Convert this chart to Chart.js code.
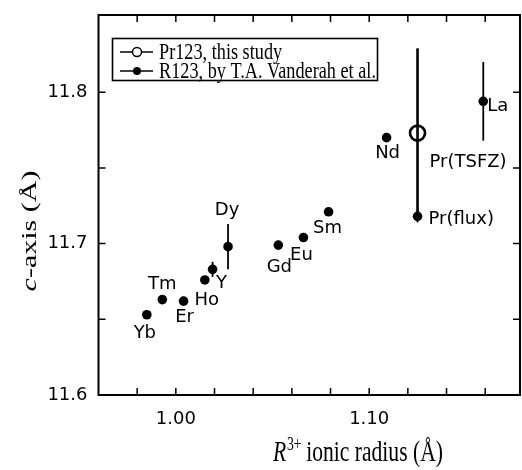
<!DOCTYPE html>
<html>
<head>
<meta charset="utf-8">
<script src="https://cdn.jsdelivr.net/npm/chart.js@4/dist/chart.umd.min.js"></script>
<style>
  body { margin: 0; background: #fff; }
  #wrap { width: 522px; height: 470px; }
</style>
</head>
<body>
<div id="wrap"><canvas id="cChart" width="522" height="470"></canvas></div>
<script>
// R123 data (T.A. Vanderah et al.)
const names = ['Yb', 'Tm', 'Er', 'Ho', 'Y', 'Dy', 'Gd', 'Eu', 'Sm', 'Nd', 'Pr(flux)', 'La'];
const radius = [0.985, 0.993, 1.004, 1.015, 1.019, 1.027, 1.053, 1.066, 1.079, 1.109, 1.125, 1.159];
const caxis = [11.653, 11.663, 11.662, 11.676, 11.683, 11.698, 11.699, 11.704, 11.721, 11.770, 11.718, 11.794];
const caxisErr = [0, 0, 0, 0, 0.005, 0.015, 0, 0, 0, 0, 0.004, 0.026];

// Pr123, this study
const prName = 'Pr(TSFZ)';
const prRadius = [1.125];
const prCaxis = [11.773];
const prErr = [0.056];

// axis ticks
const xTicks = [0.98, 1.00, 1.02, 1.04, 1.06, 1.08, 1.10, 1.12, 1.14, 1.16];
const xTickLabels = ['1.00', '1.10'];
const yTicks = [11.60, 11.65, 11.70, 11.75, 11.80];
const yTickLabels = ['11.6', '11.7', '11.8'];

// where each point label sits relative to its marker (px)
const labelPos = {
    'Yb': [-2, 19, 'center'], 'Tm': [0, -15, 'center'], 'Er': [1, 16, 'center'],
    'Ho': [2, 20, 'center'], 'Y': [9, 14, 'center'], 'Dy': [-1, -36, 'center'],
    'Gd': [1, 22, 'center'], 'Eu': [-2, 18, 'center'], 'Sm': [-1, 17, 'center'],
    'Nd': [1, 16, 'center'], 'Pr(flux)': [11, 3, 'left'], 'La': [4, 5, 'left'],
    'Pr(TSFZ)': [12, 29, 'left']
};

const SANS = '"DejaVu Sans", sans-serif';
const SERIF = '"Liberation Serif", "Times New Roman", serif';

function near(v, list) {
    return list.find(s => Math.abs(parseFloat(s) - v) < 1e-6);
}

// frame, inward ticks, error bars, labels, legend, axis titles
const decor = {
    id: 'decor',
    beforeDatasetsDraw(chart) {
        const ctx = chart.ctx;
        const x = chart.scales.x, y = chart.scales.y;
        ctx.save();
        ctx.strokeStyle = '#000';
        ctx.lineCap = 'butt';
        // error bars
        ctx.lineWidth = 1.8;
        radius.forEach((r, i) => {
            if (!caxisErr[i]) return;
            const px = x.getPixelForValue(r);
            ctx.beginPath();
            ctx.moveTo(px, y.getPixelForValue(caxis[i] + caxisErr[i]));
            ctx.lineTo(px, y.getPixelForValue(caxis[i] - caxisErr[i]));
            ctx.stroke();
        });
        ctx.lineWidth = 2.6;
        prRadius.forEach((r, i) => {
            const px = x.getPixelForValue(r);
            ctx.beginPath();
            ctx.moveTo(px, y.getPixelForValue(prCaxis[i] + prErr[i]));
            ctx.lineTo(px, y.getPixelForValue(prCaxis[i] - prErr[i]));
            ctx.stroke();
        });
        ctx.restore();
    },
    afterDraw(chart) {
        const ctx = chart.ctx;
        const a = chart.chartArea;
        const x = chart.scales.x, y = chart.scales.y;
        ctx.save();
        ctx.strokeStyle = '#000';
        ctx.fillStyle = '#000';

        // frame
        ctx.lineWidth = 2;
        ctx.strokeRect(a.left, a.top, a.right - a.left, a.bottom - a.top);

        // inward ticks on all four sides
        ctx.lineWidth = 1.5;
        const tl = 7;
        xTicks.forEach(v => {
            const px = x.getPixelForValue(v);
            ctx.beginPath();
            ctx.moveTo(px, a.bottom); ctx.lineTo(px, a.bottom - tl);
            ctx.moveTo(px, a.top); ctx.lineTo(px, a.top + tl);
            ctx.stroke();
        });
        yTicks.forEach(v => {
            const py = y.getPixelForValue(v);
            ctx.beginPath();
            ctx.moveTo(a.left, py); ctx.lineTo(a.left + tl, py);
            ctx.moveTo(a.right, py); ctx.lineTo(a.right - tl, py);
            ctx.stroke();
        });

        // point labels
        ctx.font = '18px ' + SANS;
        ctx.textBaseline = 'middle';
        names.forEach((n, i) => {
            const p = labelPos[n];
            ctx.textAlign = p[2];
            ctx.fillText(n, x.getPixelForValue(radius[i]) + p[0], y.getPixelForValue(caxis[i]) + p[1]);
        });
        const pp = labelPos[prName];
        ctx.textAlign = pp[2];
        ctx.fillText(prName, x.getPixelForValue(prRadius[0]) + pp[0], y.getPixelForValue(prCaxis[0]) + pp[1]);

        // legend
        const lx = 112.5, ly = 38.5, lw = 265, lh = 42;
        ctx.lineWidth = 1.6;
        ctx.fillStyle = '#fff';
        ctx.fillRect(lx, ly, lw, lh);
        ctx.strokeRect(lx, ly, lw, lh);
        ctx.fillStyle = '#000';
        const rows = [
            { y: 52, label: 'Pr123, this study', open: true },
            { y: 71, label: 'R123, by T.A. Vanderah et al.', open: false }
        ];
        rows.forEach(r => {
            ctx.lineWidth = 1.5;
            ctx.beginPath();
            ctx.moveTo(120, r.y); ctx.lineTo(153, r.y);
            ctx.stroke();
            ctx.beginPath();
            ctx.arc(137, r.y, r.open ? 4.5 : 4, 0, Math.PI * 2);
            if (r.open) {
                ctx.fillStyle = '#fff'; ctx.fill();
                ctx.lineWidth = 1.4; ctx.stroke();
                ctx.fillStyle = '#000';
            } else {
                ctx.fill();
            }
            ctx.save();
            ctx.translate(159, r.y);
            ctx.scale(0.76, 1);
            ctx.font = '24px ' + SERIF;
            ctx.textAlign = 'left';
            ctx.textBaseline = 'middle';
            ctx.fillText(r.label, 0, 1);
            ctx.restore();
        });

        // x title: R^3+ ionic radius (Å)
        ctx.save();
        ctx.translate(358, 461);
        ctx.scale(0.72, 1);
        ctx.textBaseline = 'alphabetic';
        ctx.textAlign = 'left';
        const f1 = 'italic 30px ' + SERIF, f2 = '19px ' + SERIF, f3 = '30px ' + SERIF;
        const t1 = 'R', t2 = '3+', t3 = ' ionic radius (\u00C5)';
        ctx.font = f1; const w1 = ctx.measureText(t1).width;
        ctx.font = f2; const w2 = ctx.measureText(t2).width;
        ctx.font = f3; const w3 = ctx.measureText(t3).width;
        let sx = -(w1 + w2 + w3) / 2;
        ctx.font = f1; ctx.fillText(t1, sx, 0); sx += w1 + 1;
        ctx.font = f2; ctx.fillText(t2, sx, -11); sx += w2 - 1;
        ctx.font = f3; ctx.fillText(t3, sx, 0);
        ctx.restore();

        // y title: c-axis (Å)
        ctx.save();
        ctx.translate(30, 231);
        ctx.rotate(-Math.PI / 2);
        ctx.scale(1, 0.72);
        ctx.textBaseline = 'middle';
        ctx.textAlign = 'left';
        const g1 = 'italic 30px ' + SERIF, g2 = '30px ' + SERIF;
        const s1 = 'c', s2 = '-axis (\u00C5)';
        ctx.font = g1; const v1 = ctx.measureText(s1).width;
        ctx.font = g2; const v2 = ctx.measureText(s2).width;
        let yx = -(v1 + v2) / 2;
        ctx.font = g1; ctx.fillText(s1, yx, 0); yx += v1;
        ctx.font = g2; ctx.fillText(s2, yx, 0);
        ctx.restore();

        ctx.restore();
    }
};

const ctx = document.getElementById('cChart').getContext('2d');
new Chart(ctx, {
    type: 'scatter',
    data: {
        datasets: [
            {
                label: 'Pr123, this study',
                data: prRadius.map((r, i) => ({ x: r, y: prCaxis[i] })),
                pointStyle: 'circle',
                pointRadius: 7.5,
                pointBorderWidth: 2.6,
                borderColor: '#000',
                backgroundColor: 'rgba(0,0,0,0)'
            },
            {
                label: 'R123, by T.A. Vanderah et al.',
                data: radius.map((r, i) => ({ x: r, y: caxis[i] })),
                pointStyle: 'circle',
                pointRadius: 4.8,
                pointBorderWidth: 0,
                borderColor: '#000',
                backgroundColor: '#000'
            }
        ]
    },
    options: {
        responsive: false,
        animation: false,
        devicePixelRatio: 1,
        layout: { autoPadding: false, padding: { top: 15, right: 2, left: 0, bottom: 0 } },
        plugins: { legend: { display: false }, tooltip: { enabled: false } },
        scales: {
            x: {
                type: 'linear',
                min: 0.96,
                max: 1.178,
                grid: { display: false },
                border: { display: false },
                afterFit: s => { s.height = 75; s.paddingLeft = 0; s.paddingRight = 0; },
                ticks: {
                    stepSize: 0.02,
                    autoSkip: false,
                    maxRotation: 0,
                    padding: 6,
                    color: '#000',
                    font: { family: SANS, size: 18 },
                    callback: v => near(v, xTickLabels) || ''
                }
            },
            y: {
                type: 'linear',
                min: 11.6,
                max: 11.851,
                grid: { display: false },
                border: { display: false },
                afterFit: s => { s.width = 98.5; s.paddingTop = 0; s.paddingBottom = 0; },
                ticks: {
                    stepSize: 0.05,
                    autoSkip: false,
                    padding: 3,
                    color: '#000',
                    font: { family: SANS, size: 18 },
                    callback: v => near(v, yTickLabels) || ''
                }
            }
        }
    },
    plugins: [decor]
});
</script>
</body>
</html>
